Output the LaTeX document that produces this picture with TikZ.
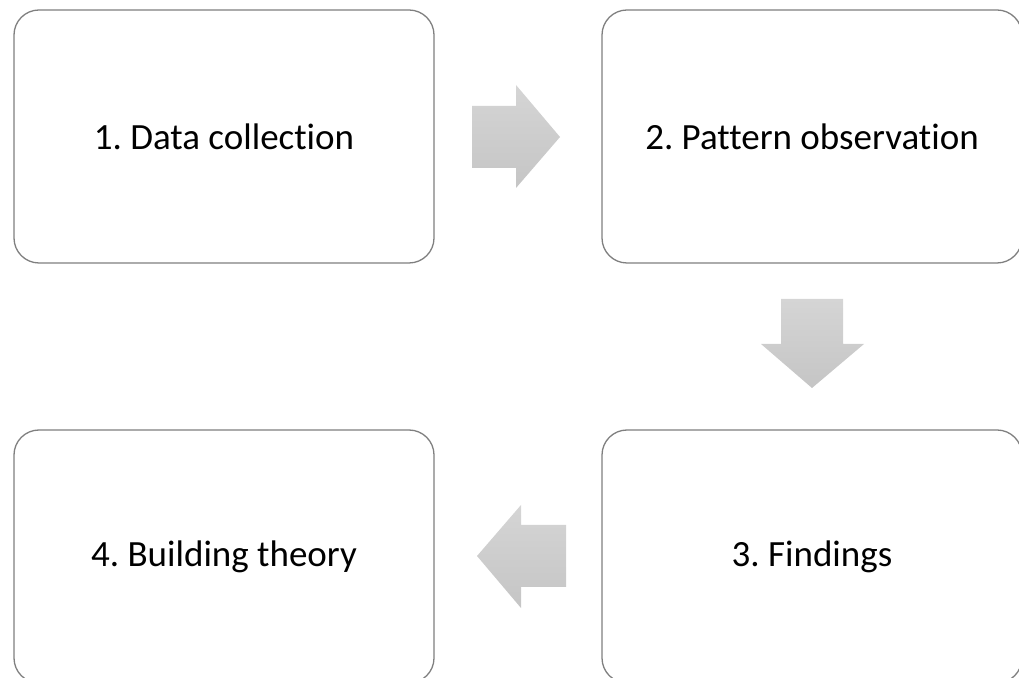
\documentclass[tikz,border=0pt]{standalone}
\usepackage{fontspec}
\setmainfont{Carlito}[Ligatures={NoCommon}]
\frenchspacing
\begin{document}
\begin{tikzpicture}[x=1pt,y=1pt,
  stepbox/.style={draw=boxline, line width=1.3pt, rounded corners=25pt,
    fill=white, minimum width=420pt, minimum height=253pt, inner sep=0pt,
    font=\fontsize{37}{44}\selectfont, text=black},
  blockarrow/.style={top color=arrowtop, bottom color=arrowbottom, draw=none}]
  \definecolor{boxline}{HTML}{7F7F7F}
  \definecolor{arrowtop}{HTML}{D5D5D5}
  \definecolor{arrowbottom}{HTML}{C5C5C5}
  \useasboundingbox (0,0) rectangle (1019,677);
  \clip (0,0) rectangle (1019,677);

  % the four process steps
  \node[stepbox] (b1) at (224,540.5) {1. Data collection};
  \node[stepbox] (b2) at (812,540.5) {2. Pattern observation};
  \node[stepbox] (b3) at (812,120.5) {3. Findings};
  \node[stepbox] (b4) at (224,120.5) {4. Building theory};

  % block arrow from step 1 to step 2
  \path[blockarrow] (472,571) -- (516,571) -- (516,592) -- (560,540)
    -- (516,489) -- (516,509) -- (472,509) -- cycle;
  % block arrow from step 2 down to step 3
  \path[blockarrow] (781,378) -- (843,378) -- (843,333) -- (864,333)
    -- (812,289) -- (761,333) -- (781,333) -- cycle;
  % block arrow from step 3 back to step 4
  \path[blockarrow] (566,152) -- (521,152) -- (521,172) -- (477,121)
    -- (521,69) -- (521,90) -- (566,90) -- cycle;
\end{tikzpicture}
\end{document}
